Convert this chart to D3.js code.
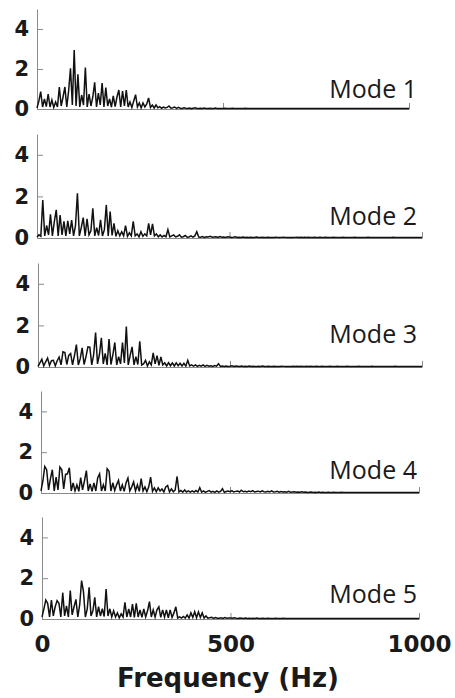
<!DOCTYPE html>
<html>
<head>
<meta charset="utf-8">
<script src="https://cdn.jsdelivr.net/npm/d3@7"></script>
<style>
  html, body { margin: 0; padding: 0; background: #ffffff; }
  svg { display: block; }
</style>
</head>
<body>
<svg id="chart" width="455" height="698"></svg>
<script>
// Spectral amplitude of each mode, sampled every 5 Hz from 0 to 1000 Hz (201 bins).
const freqHz = d3.range(0, 1001, 5);

const modeNames = ["Mode 1", "Mode 2", "Mode 3", "Mode 4", "Mode 5"];

const mode1 = [
  0.05,0.4,0.87,0.1,0.5,0.12,0.75,0.1,0.45,0.08,
  0.35,0.1,1.1,0.15,0.6,1.1,0.1,0.9,2.03,0.2,
  2.95,0.15,1.73,0.1,0.7,0.2,2.07,0.1,0.75,0.15,
  0.6,1.33,0.1,0.8,0.2,1.3,0.1,1.07,0.15,0.5,
  0.1,0.65,0.12,0.6,0.95,0.1,0.9,0.15,0.95,0.1,
  0.35,0.08,0.4,0.72,0.1,0.3,0.06,0.3,0.1,0.25,
  0.55,0.08,0.2,0.05,0.2,0.06,0.12,0.04,0.1,0.05,
  0.08,0.15,0.04,0.06,0.1,0.03,0.08,0.04,0.03,0.06,
  0.04,0.03,0.05,0.02,0.04,0.06,0.03,0.02,0.04,0.03,
  0.05,0.02,0.03,0.04,0.02,0.03,0.05,0.02,0.03,0.02,
  0.03,0.04,0.02,0.03,0.02,0.04,0.02,0.03,0.02,0.03,
  0.02,0.03,0.04,0.02,0.02,0.03,0.02,0.03,0.02,0.02,
  0.03,0.02,0.02,0.03,0.02,0.02,0.03,0.02,0.02,0.02,
  0.02,0.03,0.02,0.02,0.02,0.03,0.02,0.02,0.02,0.02,
  0.03,0.02,0.02,0.02,0.02,0.03,0.02,0.02,0.02,0.02,
  0.02,0.02,0.03,0.02,0.02,0.02,0.02,0.02,0.03,0.02,
  0.02,0.02,0.02,0.02,0.02,0.03,0.02,0.02,0.02,0.02,
  0.02,0.02,0.02,0.02,0.03,0.02,0.02,0.02,0.02,0.02,
  0.02,0.02,0.02,0.02,0.02,0.02,0.02,0.03,0.02,0.02,
  0.02,0.02,0.02,0.02,0.02,0.02,0.02,0.02,0.02,0.02,
  0.02
];

const mode2 = [
  0.05,0.15,0.08,1.83,0.1,0.6,0.15,1.14,0.1,0.79,
  1.35,0.1,1.1,0.15,0.8,0.1,0.83,0.2,0.86,0.1,
  0.6,2.15,0.1,0.5,0.98,0.1,0.92,0.15,0.35,1.43,
  0.1,0.5,0.12,0.87,0.1,0.4,1.59,0.1,1.27,0.12,
  0.7,0.08,0.35,0.1,0.3,0.1,0.6,0.08,0.25,0.1,
  0.8,0.1,0.2,0.06,0.3,0.08,0.2,0.1,0.7,0.15,
  0.68,0.1,0.2,0.06,0.15,0.05,0.12,0.06,0.4,0.05,
  0.1,0.15,0.05,0.08,0.15,0.04,0.06,0.12,0.04,0.05,
  0.1,0.04,0.1,0.3,0.05,0.04,0.07,0.03,0.06,0.05,
  0.08,0.04,0.05,0.06,0.03,0.07,0.04,0.05,0.03,0.06,
  0.05,0.03,0.04,0.06,0.03,0.04,0.03,0.05,0.03,0.04,
  0.03,0.04,0.03,0.03,0.05,0.03,0.03,0.04,0.03,0.03,
  0.04,0.03,0.03,0.03,0.04,0.03,0.02,0.03,0.04,0.03,
  0.02,0.03,0.03,0.02,0.03,0.04,0.02,0.03,0.02,0.03,
  0.02,0.03,0.02,0.02,0.03,0.02,0.02,0.03,0.02,0.02,
  0.03,0.02,0.02,0.02,0.03,0.02,0.02,0.02,0.02,0.03,
  0.02,0.02,0.02,0.02,0.02,0.03,0.02,0.02,0.02,0.02,
  0.02,0.02,0.03,0.02,0.02,0.02,0.02,0.02,0.02,0.02,
  0.02,0.02,0.02,0.02,0.02,0.03,0.02,0.02,0.02,0.02,
  0.02,0.02,0.02,0.02,0.02,0.02,0.02,0.02,0.02,0.02,
  0.02
];

const mode3 = [
  0.03,0.2,0.37,0.05,0.25,0.43,0.08,0.3,0.32,0.06,
  0.3,0.48,0.1,0.73,0.69,0.12,0.56,0.65,0.1,0.56,
  1.08,0.1,0.4,0.92,0.12,0.5,0.97,0.95,0.1,0.6,
  1.66,0.15,0.6,1.4,0.15,0.65,0.1,1.34,0.12,0.6,
  1.18,0.1,0.5,0.15,1.18,0.2,1.94,0.1,0.56,0.97,
  0.1,0.5,0.12,1.24,0.1,0.15,0.32,0.05,0.25,0.1,
  0.68,0.15,0.55,0.08,0.48,0.1,0.2,0.05,0.21,0.06,
  0.2,0.05,0.2,0.06,0.18,0.05,0.18,0.04,0.32,0.05,
  0.1,0.04,0.1,0.03,0.08,0.04,0.1,0.03,0.08,0.04,
  0.06,0.03,0.07,0.04,0.16,0.03,0.05,0.03,0.05,0.03,
  0.04,0.06,0.03,0.05,0.04,0.03,0.05,0.03,0.04,0.03,
  0.05,0.03,0.04,0.03,0.03,0.04,0.03,0.05,0.03,0.03,
  0.04,0.03,0.03,0.04,0.03,0.03,0.02,0.04,0.03,0.02,
  0.03,0.03,0.02,0.04,0.02,0.03,0.02,0.03,0.02,0.02,
  0.03,0.02,0.03,0.02,0.02,0.03,0.02,0.02,0.03,0.02,
  0.02,0.02,0.03,0.02,0.02,0.02,0.03,0.02,0.02,0.02,
  0.02,0.03,0.02,0.02,0.02,0.02,0.02,0.03,0.02,0.02,
  0.02,0.02,0.02,0.02,0.03,0.02,0.02,0.02,0.02,0.02,
  0.02,0.02,0.02,0.02,0.02,0.02,0.03,0.02,0.02,0.02,
  0.02,0.02,0.02,0.02,0.02,0.02,0.02,0.02,0.02,0.02,
  0.02
];

const mode4 = [
  0.1,0.6,1.3,1.14,0.15,0.7,1.14,0.1,0.78,0.15,
  1.27,1.14,0.2,0.91,0.94,1.24,0.1,0.5,0.1,0.4,
  0.08,0.75,0.15,0.6,1.1,0.1,0.45,0.08,0.5,0.1,
  0.75,0.94,0.1,0.4,0.1,1.19,1.07,0.1,0.5,0.12,
  0.4,0.62,0.1,0.4,0.08,0.5,0.73,0.1,0.3,0.54,
  0.1,0.4,0.08,0.7,0.1,0.3,0.06,0.3,0.78,0.08,
  0.25,0.06,0.25,0.1,0.2,0.05,0.3,0.37,0.05,0.2,
  0.06,0.15,0.81,0.05,0.12,0.04,0.15,0.05,0.1,0.04,
  0.1,0.04,0.12,0.05,0.26,0.04,0.1,0.03,0.08,0.12,
  0.04,0.08,0.03,0.1,0.04,0.08,0.21,0.03,0.07,0.1,
  0.06,0.12,0.05,0.08,0.1,0.05,0.14,0.06,0.08,0.05,
  0.1,0.06,0.12,0.05,0.07,0.09,0.05,0.11,0.06,0.05,
  0.08,0.05,0.1,0.05,0.06,0.08,0.04,0.07,0.05,0.06,
  0.04,0.08,0.04,0.05,0.06,0.04,0.05,0.04,0.06,0.04,
  0.05,0.03,0.04,0.05,0.03,0.04,0.03,0.05,0.03,0.04,
  0.03,0.03,0.04,0.03,0.03,0.04,0.03,0.03,0.03,0.04,
  0.03,0.03,0.03,0.02,0.03,0.03,0.02,0.03,0.03,0.02,
  0.03,0.02,0.03,0.02,0.02,0.03,0.02,0.02,0.03,0.02,
  0.02,0.02,0.03,0.02,0.02,0.02,0.02,0.03,0.02,0.02,
  0.02,0.02,0.02,0.02,0.02,0.02,0.02,0.02,0.02,0.02,
  0.02
];

const mode5 = [
  0.1,0.5,0.93,0.77,0.1,0.93,0.15,0.6,0.9,0.77,
  0.1,1.29,0.15,0.64,0.1,1.39,0.2,0.6,0.96,0.1,
  0.7,1.88,1.34,0.1,0.5,1.55,0.15,0.4,1.06,0.1,
  0.6,0.15,0.5,0.12,1.47,0.15,0.5,0.1,0.4,0.1,
  0.3,0.06,0.25,0.1,0.82,0.1,0.5,0.1,0.73,0.08,
  0.77,0.1,0.45,0.08,0.5,0.1,0.4,0.85,0.1,0.45,
  0.1,0.45,0.6,0.08,0.45,0.1,0.45,0.06,0.45,0.08,
  0.3,0.6,0.05,0.1,0.04,0.12,0.04,0.2,0.05,0.3,
  0.08,0.36,0.06,0.35,0.08,0.3,0.05,0.15,0.04,0.06,
  0.08,0.03,0.07,0.04,0.04,0.06,0.03,0.07,0.04,0.05,
  0.05,0.04,0.06,0.04,0.03,0.05,0.04,0.03,0.05,0.03,
  0.04,0.03,0.04,0.03,0.05,0.03,0.03,0.04,0.03,0.03,
  0.04,0.03,0.03,0.03,0.04,0.03,0.03,0.02,0.04,0.03,
  0.02,0.03,0.03,0.02,0.03,0.02,0.03,0.02,0.03,0.02,
  0.02,0.03,0.02,0.02,0.03,0.02,0.02,0.02,0.03,0.02,
  0.02,0.02,0.02,0.03,0.02,0.02,0.02,0.02,0.02,0.03,
  0.02,0.02,0.02,0.02,0.02,0.02,0.03,0.02,0.02,0.02,
  0.02,0.02,0.02,0.03,0.02,0.02,0.02,0.02,0.02,0.02,
  0.02,0.02,0.02,0.02,0.02,0.02,0.02,0.02,0.03,0.02,
  0.02,0.02,0.02,0.02,0.02,0.02,0.02,0.02,0.02,0.02,
  0.02
];

const modeSeries = [mode1, mode2, mode3, mode4, mode5];

const yTicks = [0, 2, 4];
const xTicks = [0, 500, 1000];
const yDomain = [0, 5];
const xDomain = [0, 1000];
const xTitle = "Frequency (Hz)";

// Panel frames (pixels): left/right of the frequency axis, zero line and top of each plot.
const panelFrames = [
  { left: 37, right: 409, bottom: 109, top: 9,   labelY: 98 },
  { left: 37, right: 422, bottom: 238, top: 134, labelY: 225 },
  { left: 38, right: 422, bottom: 367, top: 263, labelY: 343 },
  { left: 41, right: 419, bottom: 493, top: 391, labelY: 479 },
  { left: 42, right: 419, bottom: 619, top: 517, labelY: 603 }
];

const axisColor = "#8a8a8a";
const boldFont = "'DejaVu Sans', sans-serif";

const svg = d3.select("#chart");

modeSeries.forEach((series, k) => {
  const f = panelFrames[k];
  const x = d3.scaleLinear().domain(xDomain).range([f.left, f.right]);
  const y = d3.scaleLinear().domain(yDomain).range([f.bottom, f.top]);
  const g = svg.append("g").attr("class", "panel");
  const isLast = k === modeSeries.length - 1;

  // frequency axis with inward ticks
  const xAxis = d3.axisBottom(x)
    .tickValues(xTicks)
    .tickSizeInner(-6)
    .tickSizeOuter(0)
    .tickPadding(17)
    .tickFormat(isLast ? d3.format("d") : () => "");
  const gx = g.append("g")
    .attr("transform", `translate(0,${f.bottom})`)
    .call(xAxis);

  // amplitude axis with inward ticks
  const yAxis = d3.axisLeft(y)
    .tickValues(yTicks)
    .tickSizeInner(-6)
    .tickSizeOuter(0)
    .tickPadding(8)
    .tickFormat(d3.format("d"));
  const gy = g.append("g")
    .attr("transform", `translate(${f.left},0)`)
    .call(yAxis);

  [gx, gy].forEach(a => {
    a.select(".domain").attr("stroke", axisColor).attr("stroke-width", 1);
    a.selectAll(".tick line").attr("stroke", axisColor).attr("stroke-width", 1);
    a.selectAll(".tick text")
      .attr("fill", "#1a1a1a")
      .style("font-family", boldFont)
      .style("font-weight", "bold");
  });
  gy.selectAll(".tick text").style("font-size", "21px");
  gx.selectAll(".tick text").style("font-size", "23px");

  // spectrum trace
  const line = d3.line()
    .x((d, i) => x(freqHz[i]))
    .y(d => y(d));
  g.append("path")
    .datum(series)
    .attr("d", line)
    .attr("fill", "none")
    .attr("stroke", "#111111")
    .attr("stroke-width", 1.5)
    .attr("stroke-linejoin", "miter");

  // mode name
  svg.append("text")
    .attr("x", 417)
    .attr("y", f.labelY)
    .attr("text-anchor", "end")
    .style("font-family", "'Open Sans', sans-serif")
    .style("font-size", "25px")
    .attr("fill", "#1a1a1a")
    .text(modeNames[k]);
});

svg.append("text")
  .attr("x", 228)
  .attr("y", 687)
  .attr("text-anchor", "middle")
  .style("font-family", boldFont)
  .style("font-weight", "bold")
  .style("font-size", "26px")
  .attr("fill", "#1a1a1a")
  .text(xTitle);
</script>
</body>
</html>
